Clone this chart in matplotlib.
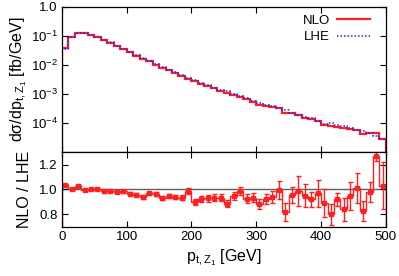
import numpy as np
import matplotlib
matplotlib.use("Agg")
from matplotlib import pyplot as plt
from matplotlib.ticker import FixedLocator, FuncFormatter, NullLocator

plt.rcParams['font.family'] = ['Liberation Sans', 'DejaVu Sans']
plt.rcParams['mathtext.fontset'] = 'custom'
plt.rcParams['mathtext.rm'] = 'Liberation Sans'
plt.rcParams['mathtext.it'] = 'Liberation Sans'

# bin edges 0..500 GeV, 10 GeV wide
edges = np.arange(0, 501, 10)
centers = edges[:-1] + 5

# log10 of NLO dsigma/dpt [fb/GeV], read per bin
nlo_log = [-1.43, -1.03, -0.90, -0.90, -0.96, -1.04, -1.14, -1.23, -1.34, -1.45,
           -1.56, -1.68, -1.79, -1.88, -1.99, -2.10, -2.19, -2.28, -2.38, -2.47,
           -2.56, -2.67, -2.73, -2.81, -2.89, -2.96, -3.02, -3.09, -3.18, -3.26,
           -3.38, -3.41, -3.45, -3.49, -3.64, -3.67, -3.73, -3.81, -3.86, -3.94,
           -4.08, -4.09, -4.12, -4.18, -4.20, -4.23, -4.37, -4.35, -4.34, -4.54]
nlo = 10 ** np.array(nlo_log)

# NLO / LHE ratio and its error
ratio = [1.035, 1.005, 1.027, 0.995, 1.005, 1.003, 0.984, 0.987, 0.978, 0.984,
         0.965, 0.957, 0.940, 0.968, 0.965, 0.930, 0.946, 0.940, 0.933, 0.985,
         0.900, 0.925, 0.928, 0.935, 0.933, 0.884, 0.946, 0.990, 0.925, 0.933,
         0.880, 0.925, 0.940, 0.995, 0.820, 0.955, 0.985, 0.950, 0.920, 0.970,
         0.890, 0.800, 0.920, 0.840, 0.946, 1.010, 0.830, 0.980, 1.270, 1.030]
ratio_err = [0.008, 0.008, 0.008, 0.008, 0.008, 0.008, 0.009, 0.009, 0.010, 0.010,
             0.011, 0.012, 0.013, 0.014, 0.015, 0.016, 0.018, 0.018, 0.020, 0.024,
             0.022, 0.025, 0.025, 0.026, 0.027, 0.028, 0.030, 0.032, 0.035, 0.035,
             0.040, 0.042, 0.045, 0.074, 0.074, 0.063, 0.120, 0.090, 0.058, 0.110,
             0.110, 0.087, 0.054, 0.090, 0.110, 0.120, 0.080, 0.083, 0.040, 0.190]
ratio = np.array(ratio)
ratio_err = np.array(ratio_err)
lhe = nlo / ratio

fig = plt.figure(figsize=(3.99, 2.76), dpi=100)
ax = fig.add_axes([0.155, 0.449, 0.812, 0.526])
rx = fig.add_axes([0.155, 0.178, 0.812, 0.271], sharex=ax)

red = '#ff2020'
ax.stairs(nlo, edges, baseline=1e-5, color=red, lw=1.6, label='NLO')
ax.stairs(lhe, edges, baseline=1e-5, color='#2020ff', lw=1.1,
          ls=(0, (1, 1.3)), label='LHE')
ax.set_yscale('log')
ax.set_ylim(1e-5, 1)
ax.set_xlim(0, 500)
ax.yaxis.set_major_locator(FixedLocator([1e-4, 1e-3, 1e-2, 1e-1, 1]))
ax.yaxis.set_minor_locator(NullLocator())
ax.yaxis.set_major_formatter(FuncFormatter(
    lambda v, p: '1.0' if v >= 1 else r'10$^{%d}$' % round(np.log10(v))))
ax.set_ylabel(r'd$\sigma$/dp$_{\rm t,Z_1}$ [fb/GeV]', fontsize=11.5, labelpad=1)
ax.tick_params(labelbottom=False)
leg = ax.legend(loc='upper right', frameon=False, markerfirst=False,
                fontsize=9.5, handlelength=2.5, borderaxespad=0.2,
                labelspacing=0.3, handletextpad=0.5,
                bbox_to_anchor=(0.975, 1.0))

rx.stairs(ratio, edges, baseline=0.7, color=red, lw=1.0)
rx.errorbar(centers, ratio, yerr=ratio_err, fmt='s', ms=2.3, color=red,
            ecolor=red, elinewidth=1.0, capsize=1.8, capthick=1.0)
rx.axhline(1.0, color='#606060', lw=1.0, zorder=0)
rx.set_ylim(0.7, 1.3)
rx.set_yticks([0.8, 1.0, 1.2])
rx.set_yticklabels(['0.8', '1.0', '1.2'])
rx.set_xticks([0, 100, 200, 300, 400, 500])
rx.set_ylabel('NLO / LHE', fontsize=11.5, labelpad=5)
rx.set_xlabel(r'p$_{\rm t,Z_1}$ [GeV]', fontsize=11.5, labelpad=3)

for a in (ax, rx):
    a.tick_params(direction='in', top=True, right=True, length=4,
                  width=0.8, labelsize=9.5, pad=3)
    for s in a.spines.values():
        s.set_linewidth(0.9)

fig.savefig('out.png', dpi=100)
